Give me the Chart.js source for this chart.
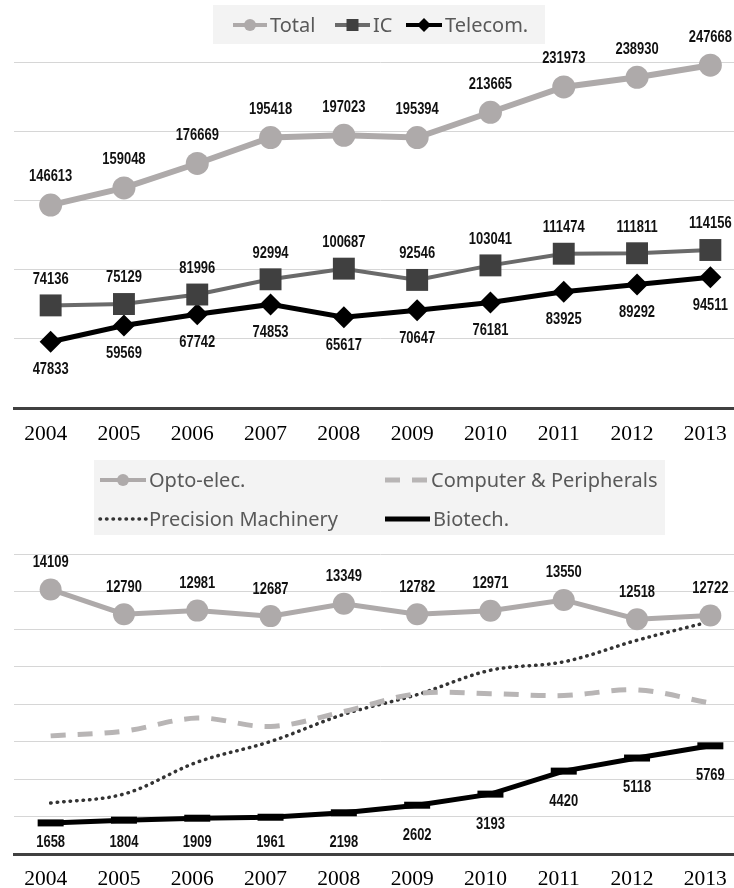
<!DOCTYPE html>
<html>
<head>
<meta charset="utf-8">
<script src="https://cdn.jsdelivr.net/npm/chart.js@4.4.1/dist/chart.umd.min.js"></script>
<style>
html, body { margin: 0; padding: 0; background: #fff; overflow: hidden; }
#wrap { position: relative; width: 734px; height: 888px; overflow: hidden; }
#c1 { position: absolute; left: 0; top: 0; }
#c2 { position: absolute; left: 0; top: 450px; }
</style>
</head>
<body>
<div id="wrap">
<canvas id="c1" width="748" height="450"></canvas>
<canvas id="c2" width="748" height="438"></canvas>
</div>
<script>
// data
const years = ['2004', '2005', '2006', '2007', '2008', '2009', '2010', '2011', '2012', '2013'];
const total = [146613, 159048, 176669, 195418, 197023, 195394, 213665, 231973, 238930, 247668];
const ic = [74136, 75129, 81996, 92994, 100687, 92546, 103041, 111474, 111811, 114156];
const telecom = [47833, 59569, 67742, 74853, 65617, 70647, 76181, 83925, 89292, 94511];
const opto = [14109, 12790, 12981, 12687, 13349, 12782, 12971, 13550, 12518, 12722];
const computer = [6300, 6550, 7250, 6800, 7600, 8550, 8550, 8450, 8750, 8050];
const precision = [2720, 3200, 4900, 6000, 7450, 8500, 9800, 10250, 11400, 12400];
const biotech = [1658, 1804, 1909, 1961, 2198, 2602, 3193, 4420, 5118, 5769];
const topTicks = { min: 0, max: 250000, step: 50000 };
const bottomTicks = { min: 0, max: 16000, step: 2000 };

const labelFont = 'bold 16px "Liberation Sans", Arial, sans-serif';
const legendFont = '20px "Noto Sans", sans-serif';

function marker(ctx, style, x, y, r, color) {
    ctx.save();
    ctx.fillStyle = color;
    ctx.beginPath();
    if (style === 'rect') {
        ctx.rect(x - r, y - r, 2 * r, 2 * r);
    } else if (style === 'rectRot') {
        ctx.moveTo(x, y - r);
        ctx.lineTo(x + r, y);
        ctx.lineTo(x, y + r);
        ctx.lineTo(x - r, y);
        ctx.closePath();
    } else {
        ctx.arc(x, y, r, 0, Math.PI * 2);
    }
    ctx.fill();
    ctx.restore();
}

// value labels above / below the points (kept inside the plot bottom)
const valueLabels = {
    id: 'valueLabels',
    afterDatasetsDraw(chart) {
        const ctx = chart.ctx;
        const maxY = chart.chartArea.bottom - 11;
        chart.data.datasets.forEach((ds, i) => {
            if (!ds.labelShift) return;
            chart.getDatasetMeta(i).data.forEach((pt, j) => {
                const y = Math.min(pt.y + ds.labelShift, maxY);
                ctx.save();
                ctx.font = labelFont;
                ctx.fillStyle = '#111';
                ctx.textAlign = 'center';
                ctx.textBaseline = 'middle';
                ctx.translate(pt.x, y);
                ctx.scale(0.81, 1);
                ctx.fillText(String(ds.data[j]), 0, 0);
                ctx.restore();
            });
        });
    }
};

// legend in a grey box
const boxLegend = {
    id: 'boxLegend',
    afterDraw(chart, args, opts) {
        const ctx = chart.ctx;
        const b = opts.box;
        ctx.save();
        ctx.fillStyle = '#f3f3f3';
        ctx.fillRect(b[0], b[1], b[2], b[3]);
        ctx.font = legendFont;
        ctx.textBaseline = 'middle';
        ctx.textAlign = 'left';
        chart.data.datasets.forEach((ds, i) => {
            const it = opts.items[i];
            ctx.save();
            ctx.strokeStyle = ds.borderColor;
            ctx.lineWidth = it.lw;
            ctx.lineCap = ds.borderCapStyle || 'butt';
            ctx.setLineDash(ds.borderDash || []);
            ctx.beginPath();
            ctx.moveTo(it.x, it.y);
            ctx.lineTo(it.x + it.w, it.y);
            ctx.stroke();
            ctx.restore();
            if (it.r) marker(ctx, ds.pointStyle, it.x + it.w / 2, it.y, it.r, ds.pointBackgroundColor);
            ctx.fillStyle = '#595959';
            ctx.fillText(ds.label, it.x + it.w + 3, it.y + 1);
        });
        ctx.restore();
    }
};

function scales(t, axisHeight, pad) {
    return {
        x: {
            offset: true,
            grid: { display: false },
            border: { color: '#404040', width: 3 },
            ticks: {
                color: '#000', padding: pad, labelOffset: -5,
                font: { family: '"Liberation Serif", "Times New Roman", serif', size: 21.5 }
            },
            afterFit(s) {
                s.height = axisHeight;
                s.paddingLeft = 0;
                s.paddingRight = 0;
            }
        },
        y: {
            min: t.min,
            max: t.max,
            grid: { color: '#d6d6d6', lineWidth: 1, drawTicks: false },
            border: { display: false },
            ticks: { display: false, stepSize: t.step }
        }
    };
}

new Chart(document.getElementById('c1'), {
    type: 'line',
    data: {
        labels: years,
        datasets: [
            {
                label: 'Total', data: total, borderColor: '#aeaaaa', borderWidth: 6,
                pointStyle: 'circle', pointRadius: 11.5, pointBackgroundColor: '#aeaaaa', pointBorderWidth: 0,
                labelShift: -28, clip: false
            },
            {
                label: 'IC', data: ic, borderColor: '#6a6a6a', borderWidth: 4,
                pointStyle: 'rect', pointRadius: 15.5, pointBackgroundColor: '#404040', pointBorderWidth: 0,
                labelShift: -26, clip: false
            },
            {
                label: 'Telecom.', data: telecom, borderColor: '#000', borderWidth: 5,
                pointStyle: 'rectRot', pointRadius: 11, pointBackgroundColor: '#000', pointBorderWidth: 0,
                labelShift: 28, clip: false
            }
        ]
    },
    options: {
        responsive: false,
        animation: false,
        events: [],
        layout: { autoPadding: false, padding: { left: 14, right: 1, top: 62, bottom: 0 } },
        scales: scales(topTicks, 42, 5),
        plugins: {
            legend: { display: false },
            tooltip: { enabled: false },
            boxLegend: {
                box: [213, 5, 332, 39],
                items: [
                    { x: 233, y: 25, w: 34, lw: 4, r: 6 },
                    { x: 335, y: 25, w: 35, lw: 4, r: 6 },
                    { x: 406, y: 25, w: 36, lw: 4, r: 7 }
                ]
            }
        }
    },
    plugins: [valueLabels, boxLegend]
});

new Chart(document.getElementById('c2'), {
    type: 'line',
    data: {
        labels: years,
        datasets: [
            {
                label: 'Opto-elec.', data: opto, borderColor: '#aeaaaa', borderWidth: 5,
                pointStyle: 'circle', pointRadius: 11, pointBackgroundColor: '#aeaaaa', pointBorderWidth: 0,
                labelShift: -27, clip: false
            },
            {
                label: 'Computer & Peripherals', data: computer, borderColor: '#b8b5b5', borderWidth: 5,
                borderDash: [15, 12], tension: 0.35, pointRadius: 0, clip: false
            },
            {
                label: 'Precision Machinery', data: precision, borderColor: '#333', borderWidth: 3.5,
                borderDash: [0.5, 6], borderCapStyle: 'round', tension: 0.35, pointRadius: 0, clip: false
            },
            {
                label: 'Biotech.', data: biotech, borderColor: '#000', borderWidth: 5,
                pointStyle: 'line', pointRadius: 13, pointBorderWidth: 7, pointBorderColor: '#000',
                labelShift: 30, clip: false
            }
        ]
    },
    options: {
        responsive: false,
        animation: false,
        events: [],
        layout: { autoPadding: false, padding: { left: 14, right: 1, top: 104, bottom: 0 } },
        scales: scales(bottomTicks, 34, 4),
        plugins: {
            legend: { display: false },
            tooltip: { enabled: false },
            boxLegend: {
                box: [94, 10, 571, 75],
                items: [
                    { x: 100, y: 30, w: 46, lw: 4, r: 6 },
                    { x: 385, y: 30, w: 43, lw: 5, r: 0 },
                    { x: 100, y: 69, w: 46, lw: 3.5, r: 0 },
                    { x: 385, y: 69, w: 45, lw: 5, r: 0 }
                ]
            }
        }
    },
    plugins: [valueLabels, boxLegend]
});
</script>
</body>
</html>
